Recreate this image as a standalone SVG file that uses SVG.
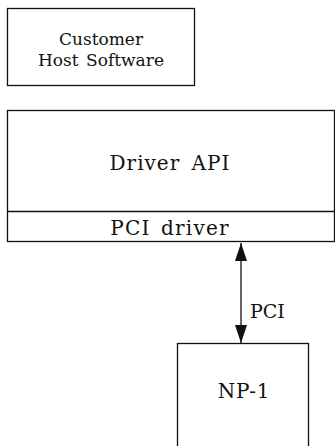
<svg xmlns="http://www.w3.org/2000/svg" width="335" height="446" viewBox="0 0 335 446">
<defs>
<style>
.box{fill:#fff;stroke:#111;stroke-width:1.3}
.t{font-family:"DejaVu Serif","Liberation Serif",serif;fill:#111;text-anchor:middle}
.conn{stroke:#111;stroke-width:1.3;fill:none}
</style>
<marker id="ah" viewBox="0 0 18 12" refX="18" refY="6" markerWidth="18" markerHeight="12" markerUnits="userSpaceOnUse" orient="auto-start-reverse">
<path d="M0,0 L18,6 L0,12 Z" fill="#111"/>
</marker>
</defs>
<rect width="335" height="446" fill="#fff"/>
<g id="customer-host-software">
<rect class="box" x="7.5" y="8.5" width="187" height="77"/>
<text class="t" x="101" y="45" font-size="17">Customer</text>
<text class="t" x="101" y="66" font-size="17" word-spacing="2">Host Software</text>
</g>
<g id="driver-api">
<rect class="box" x="7.5" y="110.5" width="327" height="131"/>
<text class="t" x="170" y="170" font-size="20" letter-spacing="1" word-spacing="4">Driver API</text>
</g>
<g id="pci-driver">
<line class="conn" x1="7.5" y1="211.5" x2="334.5" y2="211.5"/>
<text class="t" x="170" y="235" font-size="20" letter-spacing="1.2" word-spacing="3">PCI driver</text>
</g>
<g id="np-1">
<rect class="box" x="177.5" y="343.5" width="131" height="110"/>
<text class="t" x="244" y="398" font-size="20" letter-spacing="0.8">NP-1</text>
</g>
<g id="connectors">
<line class="conn" x1="241" y1="243" x2="241" y2="343" marker-start="url(#ah)" marker-end="url(#ah)"/>
<text class="t" x="250" y="318" font-size="19" style="text-anchor:start">PCI</text>
</g>
</svg>
